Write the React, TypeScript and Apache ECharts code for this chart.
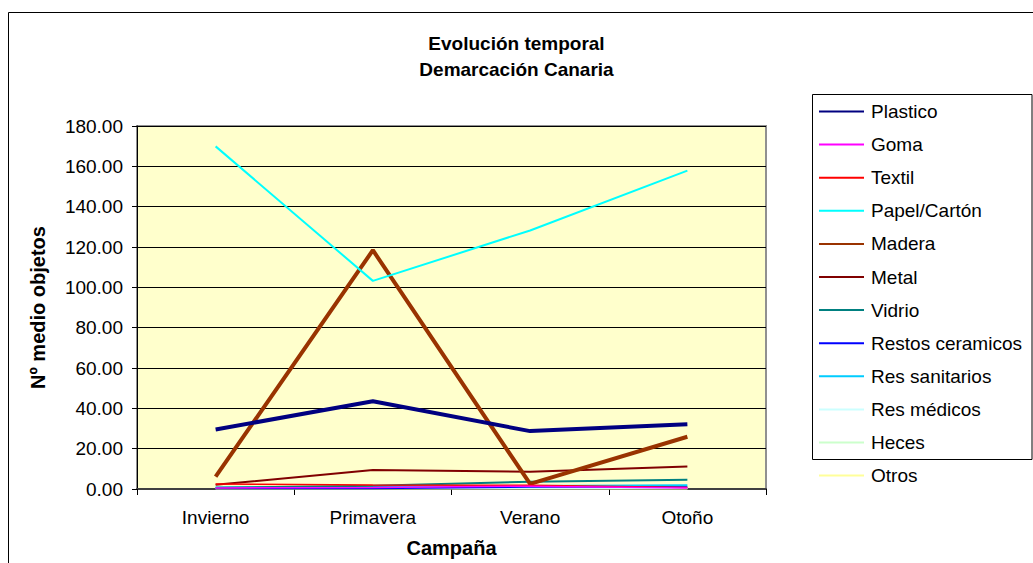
import React, { useEffect, useRef } from "react";
import * as echarts from "echarts";

const categories = ["Invierno", "Primavera", "Verano", "Otoño"];
const yTicks = { min: 0, max: 180, interval: 20 };

const seriesNames = [
  "Plastico",
  "Goma",
  "Textil",
  "Papel/Cartón",
  "Madera",
  "Metal",
  "Vidrio",
  "Restos ceramicos",
  "Res sanitarios",
  "Res médicos",
  "Heces",
  "Otros",
];

const plastico = [29.5, 43.5, 28.7, 32.1];
const goma = [0.5, 0.8, 1.4, 0.5];
const textil = [2.5, 2.0, 1.9, 0.8];
const papelCarton = [169.9, 103.2, 128.2, 157.9];
const madera = [6.1, 118.4, 2.5, 25.9];
const metal = [2.1, 9.4, 8.6, 11.1];
const vidrio = [0.6, 1.6, 3.6, 4.6];
const restosCeramicos = [0.3, 0.3, 1.0, 1.0];
const resSanitarios = [0.8, 1.0, 1.5, 1.8];
const resMedicos = [0.4, 0.4, 0.4, 0.4];
const heces = [0.2, 0.2, 0.2, 0.2];
const otros = [0.1, 0.1, 0.1, 0.1];

const seriesData = [
  plastico,
  goma,
  textil,
  papelCarton,
  madera,
  metal,
  vidrio,
  restosCeramicos,
  resSanitarios,
  resMedicos,
  heces,
  otros,
];

const seriesColors = [
  "#000080",
  "#FF00FF",
  "#FF0000",
  "#00FFFF",
  "#993300",
  "#800000",
  "#008080",
  "#0000FF",
  "#00CCFF",
  "#CCFFFF",
  "#CCFFCC",
  "#FFFF99",
];

const seriesWidths = [4, 1.5, 1.5, 2, 4, 2, 2, 1.5, 2, 1.5, 1.5, 1.5];

const FONT = "'Liberation Sans', Arial, sans-serif";

export default function App() {
  const ref = useRef<HTMLDivElement>(null);

  useEffect(() => {
    if (!ref.current) return;
    const chart = echarts.init(ref.current, undefined, { renderer: "svg" });

    const series = seriesNames.map((name, i) => ({
      name,
      type: "line",
      data: seriesData[i],
      symbol: "none",
      showSymbol: false,
      z: 20 - i,
      lineStyle: { color: seriesColors[i], width: seriesWidths[i] },
      itemStyle: { color: seriesColors[i] },
    }));

    chart.setOption({
      animation: false,
      backgroundColor: "#ffffff",
      textStyle: { fontFamily: FONT },
      graphic: [
        {
          type: "rect",
          z: -10,
          silent: true,
          shape: { x: 8.5, y: 12.5, width: 1100, height: 600 },
          style: { fill: "#ffffff", stroke: "#000000", lineWidth: 1 },
        },
        {
          type: "rect",
          z: 0,
          silent: true,
          shape: { x: 812.5, y: 94.5, width: 219.5, height: 365 },
          style: { fill: "#ffffff", stroke: "#000000", lineWidth: 1 },
        },
        {
          type: "text",
          z: 10,
          left: "center",
          top: 30,
          style: {
            text: "Evolución temporal\nDemarcación Canaria",
            font: `bold 19px ${FONT}`,
            fill: "#000000",
            textAlign: "center",
            lineHeight: 26,
          },
        },
      ],
      legend: {
        orient: "vertical",
        left: 818,
        top: 102,
        padding: 0,
        itemWidth: 45,
        itemHeight: 18,
        itemGap: 14.1,
        z: 5,
        data: seriesNames,
        itemStyle: { opacity: 0 },
        textStyle: {
          fontSize: 19,
          fontFamily: FONT,
          color: "#000000",
          lineHeight: 18,
          padding: [0, 0, 0, 2],
        },
      },
      grid: {
        left: 137,
        top: 126,
        right: 267,
        bottom: 72,
        show: true,
        backgroundColor: "#FFFFCC",
        borderColor: "#909090",
        borderWidth: 2,
        containLabel: false,
      },
      xAxis: {
        type: "category",
        data: categories,
        boundaryGap: true,
        name: "Campaña",
        nameLocation: "middle",
        nameGap: 49,
        nameTextStyle: {
          fontSize: 20,
          fontWeight: "bold",
          fontFamily: FONT,
          color: "#000000",
        },
        axisLine: { lineStyle: { color: "#404040", width: 2 } },
        axisTick: {
          show: true,
          interval: 0,
          alignWithLabel: false,
          inside: false,
          length: 6,
          lineStyle: { color: "#000000" },
        },
        axisLabel: {
          fontSize: 19,
          fontFamily: FONT,
          color: "#000000",
          margin: 19,
          interval: 0,
        },
      },
      yAxis: {
        type: "value",
        min: yTicks.min,
        max: yTicks.max,
        interval: yTicks.interval,
        name: "Nº medio objetos",
        nameLocation: "middle",
        nameGap: 89,
        nameTextStyle: {
          fontSize: 20,
          fontWeight: "bold",
          fontFamily: FONT,
          color: "#000000",
        },
        axisLine: { show: true, lineStyle: { color: "#000000", width: 1 } },
        axisTick: {
          show: true,
          inside: false,
          length: 5,
          lineStyle: { color: "#000000" },
        },
        axisLabel: {
          fontSize: 19,
          fontFamily: FONT,
          color: "#000000",
          margin: 14,
          formatter: (v: number) => v.toFixed(2),
        },
        splitLine: { show: true, lineStyle: { color: "#000000", width: 1 } },
      },
      series,
    });

    return () => chart.dispose();
  }, []);

  return (
    <div
      ref={ref}
      style={{ position: "fixed", left: 0, top: 0, width: 1033, height: 563 }}
    />
  );
}
